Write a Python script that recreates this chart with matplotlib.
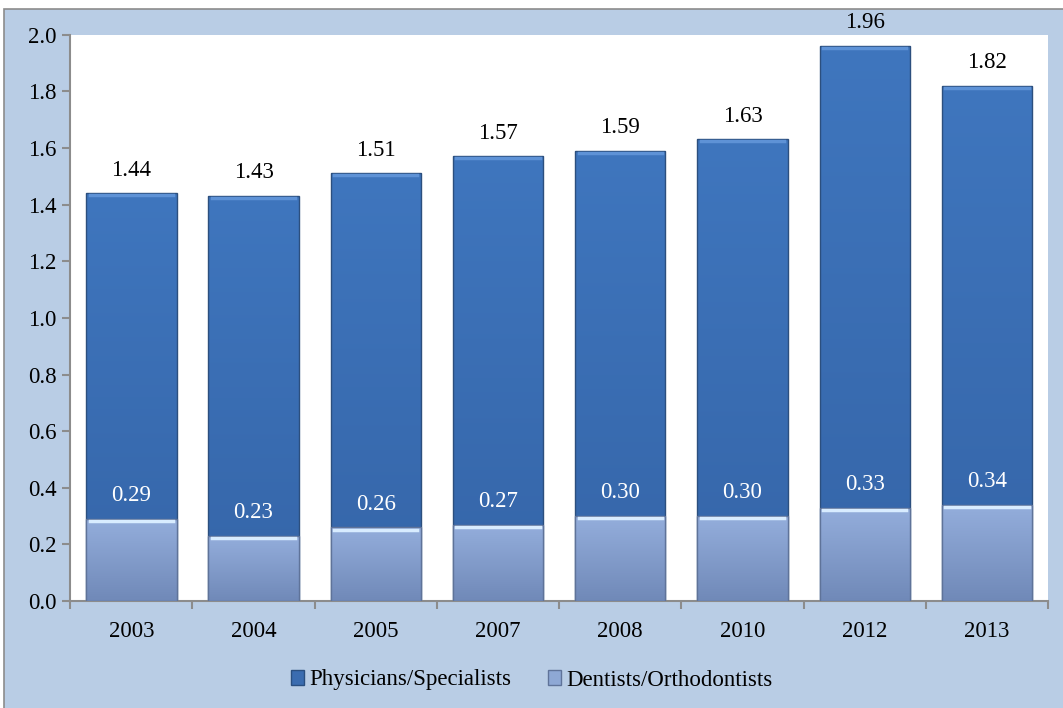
import numpy as np
import matplotlib.pyplot as plt
from matplotlib.patches import Rectangle
from matplotlib.colors import to_rgb

years = ['2003', '2004', '2005', '2007', '2008', '2010', '2012', '2013']
physicians = [1.44, 1.43, 1.51, 1.57, 1.59, 1.63, 1.96, 1.82]
dentists = [0.29, 0.23, 0.26, 0.27, 0.30, 0.30, 0.33, 0.34]

plt.rcParams['font.family'] = ['Liberation Serif', 'DejaVu Serif']
fs = 16.5

fig = plt.figure(figsize=(10.63, 7.08), dpi=100, facecolor='white')
# blue chart area with a grey frame (left/top edges visible)
fig.add_artist(Rectangle((4 / 1063, -0.01), 1.02, 1 - 9 / 708 + 0.01, transform=fig.transFigure,
                         facecolor='#B9CDE5', edgecolor='#8C8C8C', linewidth=1.2, zorder=-10))
ax = fig.add_axes([0.066, 0.151, 0.920, 0.800])
ax.set_facecolor('white')

x = np.arange(len(years))
w = 0.74


def gradient_bars(bars, top_col, bot_col, edge_col):
    grad = np.linspace(0, 1, 256).reshape(-1, 1)
    c1 = np.array(to_rgb(top_col))
    c2 = np.array(to_rgb(bot_col))
    img = c1[None, None, :] * (1 - grad[:, :, None]) + c2[None, None, :] * grad[:, :, None]
    for b in bars:
        x0, y0 = b.get_x(), b.get_y()
        bw, bh = b.get_width(), b.get_height()
        b.set_facecolor('none')
        b.set_edgecolor(edge_col)
        im = ax.imshow(img, extent=[x0, x0 + bw, y0, y0 + bh], aspect='auto',
                       origin='upper', zorder=b.get_zorder() - 0.1)
        im.set_clip_path(b)


b1 = ax.bar(x, physicians, w, linewidth=1, zorder=2, label='Physicians/Specialists')
gradient_bars(b1, '#3F76BE', '#3565A8', '#2C4F7E')
b2 = ax.bar(x, dentists, w, linewidth=1, zorder=3, label='Dentists/Orthodontists')
gradient_bars(b2, '#94AEDC', '#7089B8', '#5F7399')
# light bevel at the top of each bar
for i in range(len(years)):
    ax.plot([x[i] - w / 2 + 0.03, x[i] + w / 2 - 0.03], [physicians[i] - 0.007] * 2,
            color='#5E92D6', linewidth=2.5, zorder=4)
    ax.plot([x[i] - w / 2 + 0.03, x[i] + w / 2 - 0.03], [dentists[i] - 0.008] * 2,
            color='#D8ECFF', linewidth=2.5, zorder=4)

for i in range(len(years)):
    ax.text(x[i], physicians[i] + 0.045, '%.2f' % physicians[i], ha='center', va='bottom',
            fontsize=fs, color='black', clip_on=False)
    ax.text(x[i], dentists[i] + 0.045, '%.2f' % dentists[i], ha='center', va='bottom',
            fontsize=fs, color='white')

ax.set_ylim(0, 2.0)
ax.set_xlim(-0.5, len(years) - 0.5)
yt = np.arange(0, 2.01, 0.2)
ax.set_yticks(yt)
ax.set_yticklabels(['%.1f' % t for t in yt])
ax.set_xticks(x)
ax.set_xticklabels(years)
ax.set_xticks(np.arange(-0.5, len(years), 1), minor=True)
ax.tick_params(axis='x', which='major', length=0, labelsize=fs, pad=14)
ax.tick_params(axis='x', which='minor', length=6, color='#8C8C8C', width=1.5)
ax.tick_params(axis='y', length=6, color='#8C8C8C', width=1.5, labelsize=fs, pad=4)
for s in ['top', 'right']:
    ax.spines[s].set_visible(False)
for s in ['left', 'bottom']:
    ax.spines[s].set_color('#8C8C8C')
    ax.spines[s].set_linewidth(1.5)

h1 = Rectangle((0, 0), 1, 1, facecolor='#3A6CB0', edgecolor='#2A4F80')
h2 = Rectangle((0, 0), 1, 1, facecolor='#8EA8D5', edgecolor='#5F7399')
fig.legend([h1, h2], ['Physicians/Specialists', 'Dentists/Orthodontists'], loc='center',
           bbox_to_anchor=(0.5, 1 - 680 / 708), ncol=2, frameon=False, fontsize=fs,
           handlelength=0.6, handleheight=0.6, handletextpad=0.2, columnspacing=1.6)

fig.savefig('out.png', dpi=100, facecolor=fig.get_facecolor())
